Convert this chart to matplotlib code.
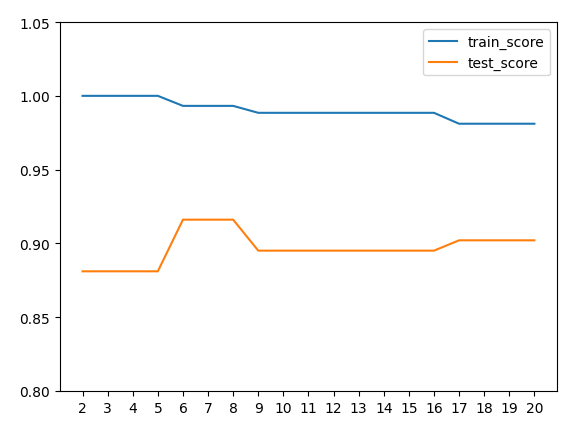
import numpy as np
import matplotlib
matplotlib.use("Agg")
import matplotlib.pyplot as plt

depths = list(range(2, 21))
train_score = [1.0, 1.0, 1.0, 1.0,
               0.9932, 0.9932, 0.9932,
               0.9885, 0.9885, 0.9885, 0.9885, 0.9885, 0.9885, 0.9885, 0.9885,
               0.9811, 0.9811, 0.9811, 0.9811]
test_score = [0.8811, 0.8811, 0.8811, 0.8811,
              0.9161, 0.9161, 0.9161,
              0.8951, 0.8951, 0.8951, 0.8951, 0.8951, 0.8951, 0.8951, 0.8951,
              0.9021, 0.9021, 0.9021, 0.9021]

fig = plt.figure(figsize=(5.82, 4.27), dpi=100)
ax = fig.add_subplot(111)
fig.subplots_adjust(left=0.103, right=0.957, top=0.946, bottom=0.082)

ax.plot(depths, train_score, label="train_score")
ax.plot(depths, test_score, label="test_score")
ax.set_xticks(depths)
ax.set_ylim(0.8, 1.05)
ax.legend(loc="upper right")

fig.savefig("out.png", dpi=100)
